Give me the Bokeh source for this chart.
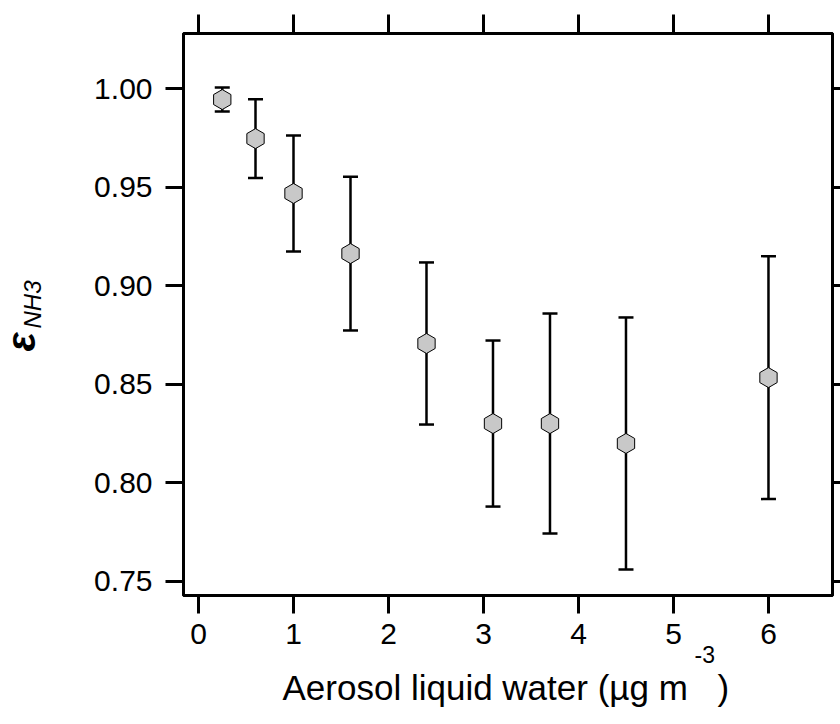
import numpy as np
from bokeh.plotting import figure
from bokeh.models import (ColumnDataSource, Whisker, TeeHead, LinearAxis, FixedTicker,
                          Label, CustomJSTickFormatter)
from bokeh.embed import file_html
from bokeh.resources import INLINE

# ---- data ----
lwc = [0.25, 0.6, 1.0, 1.6, 2.4, 3.1, 3.7, 4.5, 6.0]
eps_nh3 = [0.9944, 0.9746, 0.9468, 0.9163, 0.8707, 0.8301, 0.8301, 0.8200, 0.8534]
eps_err = [0.0061, 0.0200, 0.0294, 0.0390, 0.0411, 0.0421, 0.0558, 0.0639, 0.0616]
x_ticks = [0, 1, 2, 3, 4, 5, 6]
y_ticks = [0.75, 0.80, 0.85, 0.90, 0.95, 1.00]

X0, X1 = -0.158, 6.674
Y0, Y1 = 0.7429, 1.0279

src = ColumnDataSource(dict(
    x=lwc, y=eps_nh3,
    upper=[v + e for v, e in zip(eps_nh3, eps_err)],
    lower=[v - e for v, e in zip(eps_nh3, eps_err)],
))

FONT = "Liberation Sans"

p = figure(width=840, height=724, x_range=(X0, X1), y_range=(Y0, Y1),
           output_backend="svg", toolbar_location=None,
           min_border_left=183, min_border_right=8,
           min_border_top=33, min_border_bottom=129)
p.grid.visible = False
p.background_fill_color = "white"
p.border_fill_color = "white"
p.outline_line_color = "black"
p.outline_line_width = 3
p.outline_line_alpha = 1.0

def style_axis(ax, ticks, tick_out, show_labels):
    ax.axis_line_color = "black"
    ax.axis_line_width = 3
    if show_labels:
        ax.ticker = FixedTicker(ticks=ticks)
        ax.major_tick_line_color = "black"
        ax.major_tick_line_width = 3
        ax.major_tick_in = 0
        ax.major_tick_out = tick_out
        ax.minor_tick_line_color = None
        ax.major_label_text_font = FONT
        ax.major_label_text_color = "black"
        ax.major_label_text_font_size = "30px"
    else:
        # ticks only, no labels: use minor ticks
        ax.ticker = FixedTicker(ticks=[], minor_ticks=ticks)
        ax.minor_tick_line_color = "black"
        ax.minor_tick_line_width = 3
        ax.minor_tick_in = 0
        ax.minor_tick_out = tick_out
        ax.major_tick_line_color = None

xb = p.xaxis[0]
style_axis(xb, x_ticks, 18, True)
xb.major_label_standoff = 10
yl = p.yaxis[0]
style_axis(yl, y_ticks, 18, True)
yl.major_label_standoff = 13
yl.formatter = CustomJSTickFormatter(code="return tick.toFixed(2);")

xt = LinearAxis()
style_axis(xt, x_ticks, 19, False)
p.add_layout(xt, "above")
yr = LinearAxis()
style_axis(yr, y_ticks, 8, False)
p.add_layout(yr, "right")

# error bars
wk = Whisker(source=src, base="x", upper="upper", lower="lower",
             line_color="black", line_width=2.5,
             upper_head=TeeHead(size=15, line_width=2.5, line_color="black"),
             lower_head=TeeHead(size=15, line_width=2.5, line_color="black"))
p.add_layout(wk)

# markers
p.scatter("x", "y", source=src, marker="hex", size=20, angle=np.pi / 2,
          fill_color="#c8c8c8", line_color="black", line_width=1)

# pixel -> data helpers for placing the axis titles (page pixel coords)
FL, FR, FT, FB = 183, 832, 33, 595
def dx(ix):
    return X0 + (ix - FL) / (FR - FL) * (X1 - X0)
def dy(iy):
    return Y1 - (iy - FT) / (FB - FT) * (Y1 - Y0)

def lab(side, ix, iy, text, size, style="normal", angle=0.0):
    p.add_layout(Label(x=dx(ix), y=dy(iy), text=text, angle=angle,
                       text_font=FONT, text_font_size=size, text_font_style=style,
                       text_color="black", text_align="left",
                       text_baseline="alphabetic"), side)

# x axis title
lab("below", 282, 687, "Aerosol liquid water (µg m", "35px")
lab("below", 694, 654, "-3", "23px")
lab("left", 717, 687, ")", "35px")

# y axis title
lab("left", 20, 351, "ε", "40px", "bold italic", np.pi / 2)
lab("left", 32, 328, "NH3", "24px", "italic", np.pi / 2)

open("out.html", "w").write(file_html(p, INLINE))
